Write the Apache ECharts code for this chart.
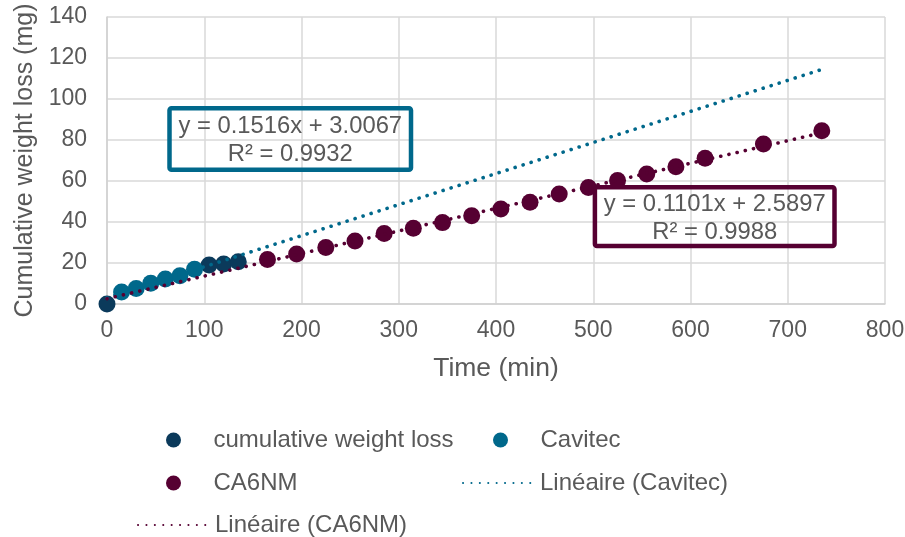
<!DOCTYPE html>
<html>
<head>
<meta charset="utf-8">
<script src="https://cdn.jsdelivr.net/npm/echarts@6/dist/echarts.min.js"></script>
<style>
html,body{margin:0;padding:0;background:#fff;}
#chart{width:905px;height:537px;}
</style>
</head>
<body>
<div id="chart"></div>
<script>
// ---- data ----
const cumulativeX = [0, 105, 120, 135];
const cumulativeY = [0, 19.0, 19.5, 20.6];
const cavitecX = [15, 30, 45, 60, 75, 90];
const cavitecY = [5.9, 7.6, 10.1, 12.2, 13.8, 16.9];
const ca6nmX = [165, 195, 225, 255, 285, 315, 345, 375, 405, 435, 465, 495, 525, 555, 585, 615, 675, 735];
const ca6nmY = [21.7, 24.4, 27.6, 30.7, 34.4, 37.0, 39.7, 43.1, 46.3, 49.6, 53.7, 56.8, 60.2, 63.4, 67.0, 71.1, 78.0, 84.5];
// trendline end points (as drawn)
const trendCavitecX = [0, 735];
const trendCavitecY = [3.0, 114.4];
const trendCa6nmX = [0, 735];
const trendCa6nmY = [2.6, 83.5];
const xTicks = [0, 100, 200, 300, 400, 500, 600, 700, 800];
const yTicks = [0, 20, 40, 60, 80, 100, 120, 140];
const seriesNames = ['cumulative weight loss', 'Cavitec', 'CA6NM', 'Linéaire (Cavitec)', 'Linéaire (CA6NM)'];
const eqCavitec = ['y = 0.1516x + 3.0067', 'R² = 0.9932'];
const eqCa6nm = ['y = 0.1101x + 2.5897', 'R² = 0.9988'];

const NAVY = '#0b3a5b', TEAL = '#00688b', MAROON = '#560032';
const TXT = '#595959', GRID = '#d9d9d9';
const FONT = 'Liberation Sans, Arial, sans-serif';

const zip = (xs, ys) => xs.map((x, i) => [x, ys[i]]);

const chart = echarts.init(document.getElementById('chart'));
const legendText = {color: TXT, fontSize: 24, fontFamily: FONT};
const option = {
  animation: false,
  textStyle: {fontFamily: FONT},
  grid: {left: 107, right: 20, top: 17, bottom: 233, containLabel: false, outerBoundsMode: 'none'},
  xAxis: {
    type: 'value', min: 0, max: 800, interval: 100,
    name: 'Time (min)', nameLocation: 'middle', nameGap: 51,
    nameTextStyle: {color: TXT, fontSize: 26.5, fontFamily: FONT},
    axisLine: {show: true, lineStyle: {color: '#d0d0d0', width: 1.5}},
    axisTick: {show: false},
    axisLabel: {color: TXT, fontSize: 23, fontFamily: FONT, margin: 15,
      formatter: v => xTicks.includes(v) ? String(v) : ''},
    splitLine: {show: true, lineStyle: {color: GRID, width: 1.5}}
  },
  yAxis: {
    type: 'value', min: 0, max: 140, interval: 20,
    name: 'Cumulative weight loss (mg)', nameLocation: 'middle', nameGap: 66,
    nameTextStyle: {color: TXT, fontSize: 25, fontFamily: FONT},
    axisLine: {show: true, lineStyle: {color: '#d0d0d0', width: 1.5}},
    axisTick: {show: false},
    axisLabel: {color: TXT, fontSize: 23, fontFamily: FONT, margin: 20,
      formatter: v => yTicks.includes(v) ? String(v) : ''},
    splitLine: {show: true, lineStyle: {color: GRID, width: 1.5}}
  },
  legend: [
    {data: [seriesNames[0]], left: 161, top: 423, itemWidth: 70, itemHeight: 15, icon: 'circle', textStyle: legendText, itemGap: 0},
    {data: [seriesNames[1]], left: 488, top: 423, itemWidth: 70, itemHeight: 15, icon: 'circle', textStyle: legendText, itemGap: 0},
    {data: [seriesNames[2]], left: 161, top: 466, itemWidth: 70, itemHeight: 15, icon: 'circle', textStyle: legendText, itemGap: 0},
    {data: [{name: seriesNames[3], itemStyle: {opacity: 0}}], left: 457, top: 466, itemWidth: 72, itemHeight: 15, textStyle: legendText, itemGap: 0},
    {data: [{name: seriesNames[4], itemStyle: {opacity: 0}}], left: 132, top: 508, itemWidth: 72, itemHeight: 15, textStyle: legendText, itemGap: 0}
  ],
  series: [
    {name: seriesNames[0], type: 'scatter', data: zip(cumulativeX, cumulativeY), symbolSize: 17, itemStyle: {color: NAVY, opacity: 1}, z: 3},
    {name: seriesNames[1], type: 'scatter', data: zip(cavitecX, cavitecY), symbolSize: 17, itemStyle: {color: TEAL, opacity: 1}, z: 3},
    {name: seriesNames[2], type: 'scatter', data: zip(ca6nmX, ca6nmY), symbolSize: 17, itemStyle: {color: MAROON, opacity: 1}, z: 3},
    {name: seriesNames[3], type: 'line', data: zip(trendCavitecX, trendCavitecY), symbol: 'none', itemStyle: {color: TEAL},
      lineStyle: {color: TEAL, width: 3.6, type: [0.1, 8.3], cap: 'round'}, z: 4},
    {name: seriesNames[4], type: 'line', data: zip(trendCa6nmX, trendCa6nmY), symbol: 'none', itemStyle: {color: MAROON},
      lineStyle: {color: MAROON, width: 3.6, type: [0.1, 8.3], cap: 'round'}, z: 4}
  ],
  graphic: [
    {type: 'rect', z: 1, shape: {x: 169.5, y: 108.2, width: 241.5, height: 61.5, r: 2},
      style: {fill: 'transparent', stroke: TEAL, lineWidth: 4.5}},
    {type: 'text', z: 5, x: 290.3, y: 126.7, style: {text: eqCavitec[0], fill: TXT, font: '23.8px ' + FONT, textAlign: 'center', textVerticalAlign: 'middle'}},
    {type: 'text', z: 5, x: 290.3, y: 154.3, style: {text: eqCavitec[1], fill: TXT, font: '23.8px ' + FONT, textAlign: 'center', textVerticalAlign: 'middle'}},
    {type: 'rect', z: 1, shape: {x: 594.9, y: 187.2, width: 239.6, height: 58.9, r: 2},
      style: {fill: 'transparent', stroke: MAROON, lineWidth: 4.5}},
    {type: 'text', z: 5, x: 714.7, y: 204.3, style: {text: eqCa6nm[0], fill: TXT, font: '23.8px ' + FONT, textAlign: 'center', textVerticalAlign: 'middle'}},
    {type: 'text', z: 5, x: 714.7, y: 232.3, style: {text: eqCa6nm[1], fill: TXT, font: '23.8px ' + FONT, textAlign: 'center', textVerticalAlign: 'middle'}}
  ]
};
chart.setOption(option);
</script>
</body>
</html>
